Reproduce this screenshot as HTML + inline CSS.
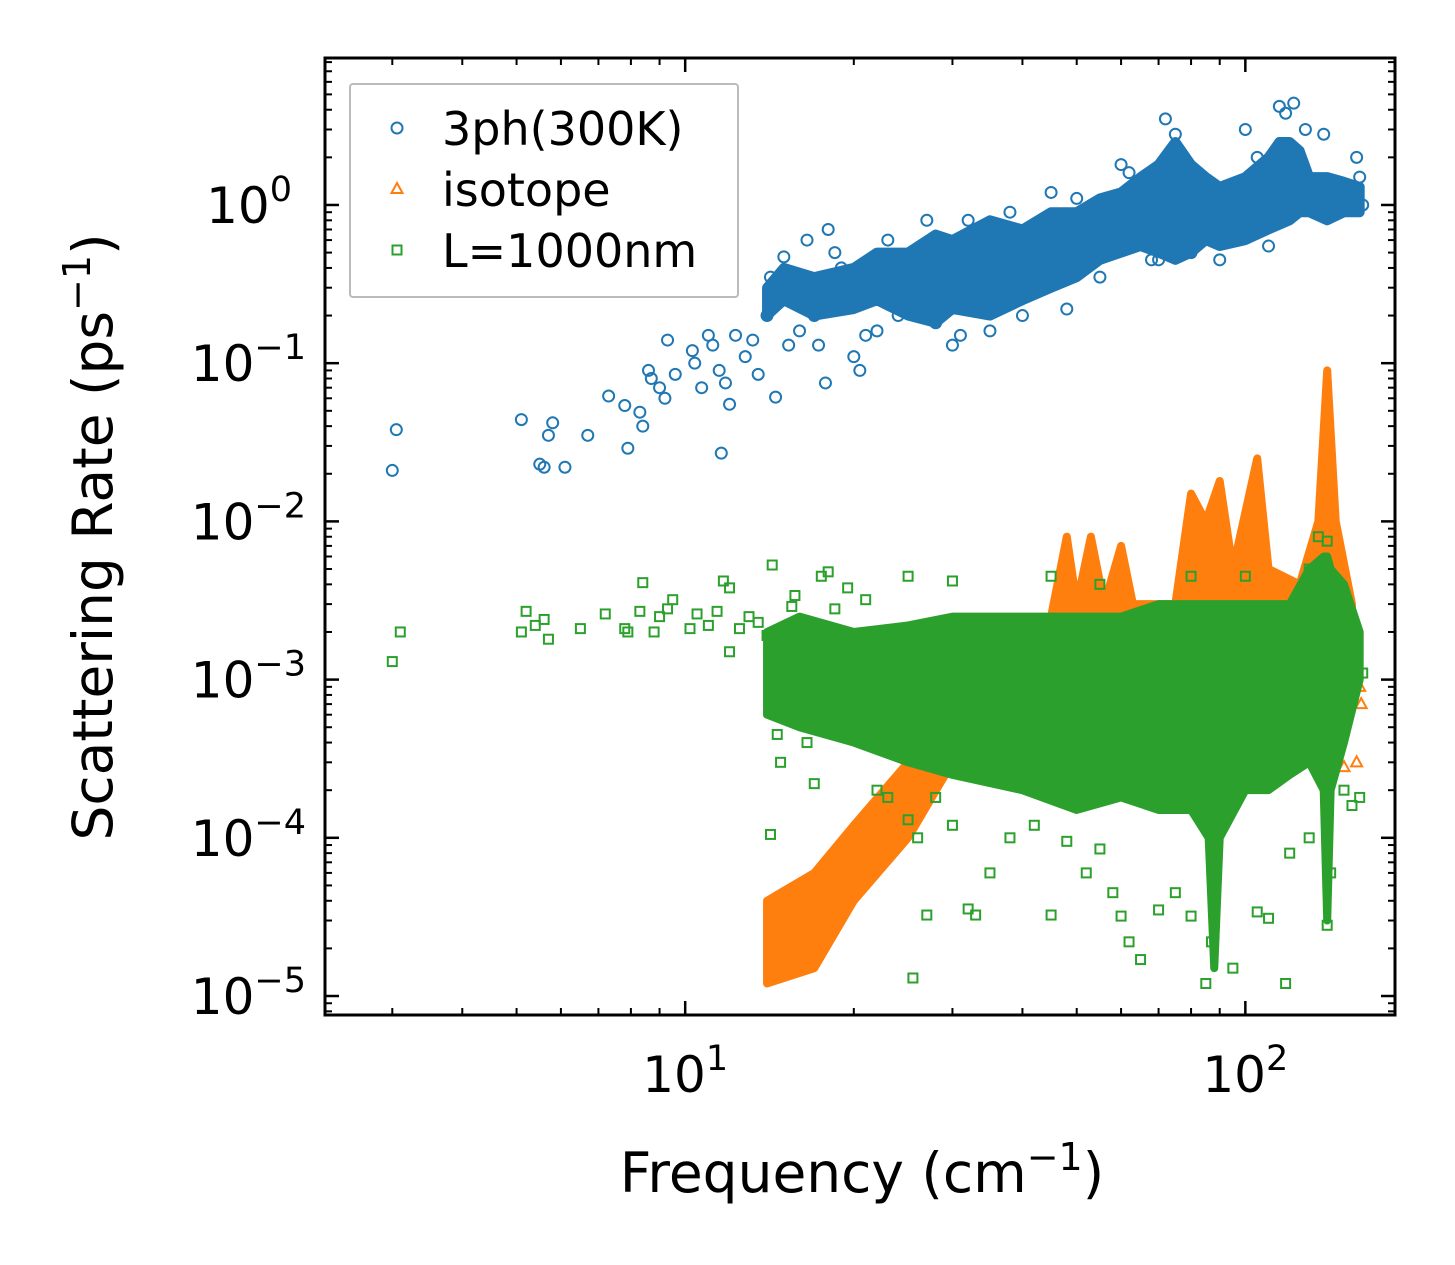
<!DOCTYPE html>
<html><head><meta charset="utf-8"><style>
body{margin:0;background:#fff;}
svg{display:block;font-family:"DejaVu Sans","Liberation Sans",sans-serif;}
</style></head><body>
<svg id="chart" width="1455" height="1265" viewBox="0 0 1455 1265">
<g id="bands"></g><g id="marks"></g><g id="axes"></g>
</svg>
<script>
const blueF=[3.0,3.05,5.1,5.5,5.6,5.7,5.8,6.1,6.7,7.3,7.8,7.9,8.3,8.4,8.6,8.7,9.0,9.2,9.3,9.6,10.3,10.4,10.7,11.0,11.2,11.5,11.6,11.8,12,12.3,12.8,13.2,13.5,14,14.2,14.5,14.8,15,15.3,16,16.5,17,17.3,17.8,18,18.5,19,19.5,20,20.5,21,22,23,24,25,27,28,30,31,32,35,38,40,45,48,50,55,60,65,68,72,75,80,85,90,100,105,110,115,118,122,125,128,132,138,142,150,155,158,160,162,95,62,70];
const blueR=[0.021,0.038,0.044,0.023,0.022,0.035,0.042,0.022,0.035,0.062,0.054,0.029,0.049,0.04,0.09,0.08,0.07,0.06,0.14,0.085,0.12,0.1,0.07,0.15,0.13,0.09,0.027,0.075,0.055,0.15,0.11,0.14,0.085,0.2,0.35,0.061,0.28,0.47,0.13,0.16,0.6,0.2,0.13,0.075,0.7,0.5,0.4,0.3,0.11,0.09,0.15,0.16,0.6,0.2,0.45,0.8,0.18,0.13,0.15,0.8,0.16,0.9,0.2,1.2,0.22,1.1,0.35,1.8,0.6,0.45,3.5,2.8,0.5,0.8,0.45,3,2,0.55,4.2,3.8,4.4,1.6,3,0.9,2.8,1.2,0.95,1.3,2,1.5,1.0,0.75,1.6,0.45];
const blueBandF=[14,15,17,20,22,25,28,30,35,40,45,50,55,60,65,70,75,80,85,90,100,110,115,120,125,130,140,150,160];
const blueBandLo=[0.2,0.25,0.2,0.22,0.25,0.2,0.18,0.22,0.2,0.25,0.3,0.35,0.45,0.5,0.55,0.5,0.45,0.5,0.6,0.55,0.6,0.7,0.75,0.8,0.9,0.9,0.8,0.9,0.9];
const blueBandHi=[0.3,0.4,0.35,0.4,0.5,0.5,0.65,0.6,0.8,0.7,0.9,0.9,1.1,1.2,1.5,1.8,2.5,1.8,1.5,1.3,1.5,2,2.5,2.5,2.2,1.5,1.5,1.4,1.3];
const orangeBandF=[14,17,20,25,30,40,45,48,50,53,56,60,63,75,80,85,90,95,105,110,125,135,140,145,155];
const orangeBandHi=[4e-5,6e-5,1.2e-4,3e-4,1e-3,2e-3,2.5e-3,8e-3,3e-3,8e-3,3e-3,7e-3,3e-3,3e-3,1.5e-2,1e-2,1.8e-2,5e-3,2.5e-2,5e-3,4e-3,1e-2,9e-2,1e-2,3e-3];
const orangeBandLo=[1.2e-5,1.5e-5,4e-5,1e-4,3e-4,5e-4,6e-4,6e-4,6e-4,6e-4,6e-4,6e-4,6e-4,6e-4,6e-4,6e-4,6e-4,6e-4,6e-4,6e-4,6e-4,6e-4,6e-4,8e-4,1e-3];
const orangeF=[160,161,158,150];
const orangeR=[9e-4,7e-4,3e-4,2.8e-4];
const greenBandF=[14,16,20,25,30,40,50,60,70,80,86,88,90,100,110,120,130,138,140,142,150,160];
const greenBandLo=[6e-4,5e-4,4e-4,3e-4,2.5e-4,2e-4,1.5e-4,1.8e-4,1.5e-4,1.5e-4,1e-4,1.5e-5,1e-4,2e-4,2e-4,2.5e-4,3e-4,2e-4,3e-5,2e-4,4e-4,1e-3];
const greenBandHi=[2e-3,2.5e-3,2e-3,2.2e-3,2.5e-3,2.5e-3,2.5e-3,2.5e-3,3e-3,3e-3,3e-3,3e-3,3e-3,3e-3,3e-3,3e-3,5e-3,6e-3,6e-3,5e-3,4e-3,2e-3];
const greenF=[3,3.1,5.1,5.2,5.4,5.6,5.7,6.5,7.2,7.8,7.9,8.3,8.4,8.8,9.0,9.3,9.5,10.2,10.5,11,11.4,11.7,12,12.5,12,13,13.5,14,14.3,14.6,14.8,14.2,15.5,15.7,16,16.5,17,17.5,18,18.5,19,19.5,21,22,23,25,25.5,26,27,28,30,32,33,35,38,42,45,48,52,55,58,60,62,65,70,75,80,85,87,95,105,110,118,120,130,140,142,150,155,160,162,158,135,140,130,100,80,45,55,25,30];
const greenR=[0.0013,0.002,0.002,0.0027,0.0022,0.0024,0.0018,0.0021,0.0026,0.0021,0.002,0.0027,0.0041,0.002,0.0025,0.0028,0.0032,0.0021,0.0026,0.0022,0.0027,0.0042,0.0038,0.0021,0.0015,0.0025,0.0023,0.0019,0.0053,0.00045,0.0003,0.000105,0.0029,0.0034,0.0012,0.0004,0.00022,0.0045,0.0048,0.0028,0.0006,0.0038,0.0032,0.0002,0.00018,0.00013,0.000013,0.0001,0.0000325,0.00018,0.00012,0.0000355,0.0000325,0.00006,0.0001,0.00012,0.0000325,0.000095,0.00006,0.000085,0.000045,0.000032,0.000022,0.000017,0.000035,0.000045,0.000032,0.000012,0.000022,0.000015,0.000034,0.000031,0.000012,0.00008,0.0001,0.000028,0.00006,0.0002,0.00016,0.00018,0.0011,0.0016,0.008,0.0075,0.005,0.0045,0.0045,0.0045,0.004,0.0045,0.0042];
const xTickExp=[1,2];
const yTickExp=[0,-1,-2,-3,-4,-5];

const NS="http://www.w3.org/2000/svg";
const L=325,R=1395,T=58,B=1015;
const xMinL=Math.log10(2.275),xMaxL=Math.log10(185);
const yMinL=-5.12,yMaxL=0.929;
const X=f=>L+(Math.log10(f)-xMinL)/(xMaxL-xMinL)*(R-L);
const Y=v=>B-(Math.log10(v)-yMinL)/(yMaxL-yMinL)*(B-T);
function mk(tag,attrs,parent){const e=document.createElementNS(NS,tag);for(const k in attrs)e.setAttribute(k,attrs[k]);parent.appendChild(e);return e;}
const bands=document.getElementById('bands'),marks=document.getElementById('marks'),axes=document.getElementById('axes');
const C={b:'#1f77b4',o:'#ff7f0e',g:'#2ca02c'};
function bandPts(F,lo,hi){let pts=F.map((f,i)=>X(f)+','+Y(hi[i]));
  for(let i=F.length-1;i>=0;i--)pts.push(X(F[i])+','+Y(lo[i]));return pts.join(' ');}
function circle(x,y,col,g){return mk('circle',{cx:x,cy:y,r:5.5,fill:'none',stroke:col,'stroke-width':2},g);}
function tri(x,y,col,g){return mk('polygon',{points:`${x},${y-6} ${x-5.5},${y+4} ${x+5.5},${y+4}`,fill:'none',stroke:col,'stroke-width':2},g);}
function sq(x,y,col,g){return mk('rect',{x:x-4.5,y:y-4.5,width:9,height:9,fill:'none',stroke:col,'stroke-width':2},g);}
const bb=mk('polygon',{points:bandPts(blueBandF,blueBandLo,blueBandHi),fill:C.b,stroke:C.b,'stroke-width':10,'stroke-linejoin':'round'},bands);


const gb=mk('g',{},marks);
blueF.forEach((f,i)=>{const e=circle(X(f),Y(blueR[i]),C.b,gb);

});
const ob=mk('g',{},marks);
const obp=mk('polygon',{points:bandPts(orangeBandF,orangeBandLo,orangeBandHi),fill:C.o,stroke:C.o,'stroke-width':8,'stroke-linejoin':'round'},ob);


orangeF.forEach((f,i)=>{const e=tri(X(f),Y(orangeR[i]),C.o,ob);

});
const gg=mk('g',{},marks);
const gbp=mk('polygon',{points:bandPts(greenBandF,greenBandLo,greenBandHi),fill:C.g,stroke:C.g,'stroke-width':8,'stroke-linejoin':'round'},gg);


greenF.forEach((f,i)=>{const e=sq(X(f),Y(greenR[i]),C.g,gg);

});

const fr=mk('rect',{x:L,y:T,width:R-L,height:B-T,fill:'none',stroke:'#000','stroke-width':3},axes);


for(let e=0;e<=2;e++)for(let m=1;m<10;m++){const v=m*Math.pow(10,e);if(v<2.275||v>185)continue;
  const x=X(v),len=m===1?14:7,w=m===1?2.5:2;
  mk('line',{x1:x,y1:B,x2:x,y2:B-len,stroke:'#000','stroke-width':w},axes);
  mk('line',{x1:x,y1:T,x2:x,y2:T+len,stroke:'#000','stroke-width':w},axes);}
for(let e=-6;e<=0;e++)for(let m=1;m<10;m++){const v=m*Math.pow(10,e);if(Math.log10(v)<yMinL||Math.log10(v)>yMaxL)continue;
  const y=Y(v),len=m===1?14:7,w=m===1?2.5:2;
  mk('line',{x1:L,y1:y,x2:L+len,y2:y,stroke:'#000','stroke-width':w},axes);
  mk('line',{x1:R,y1:y,x2:R-len,y2:y,stroke:'#000','stroke-width':w},axes);}
xTickExp.forEach(e=>{const t=mk('text',{x:X(Math.pow(10,e)),y:1092,'font-size':50,'text-anchor':'middle'},axes);
  t.innerHTML=`10<tspan dy="-22" font-size="35">${e}</tspan>`;
  
  });
yTickExp.forEach(e=>{const lab=e<0?'\u2212'+(-e):''+e;
  const t=mk('text',{x:e<0?306:292,y:Y(Math.pow(10,e))+18,'font-size':50,'text-anchor':'end'},axes);
  t.innerHTML=`10<tspan dy="-22" font-size="35">${lab}</tspan>`;
  
  });
const xt=mk('text',{x:862,y:1192,'font-size':55,'text-anchor':'middle'},axes);
xt.innerHTML='Frequency (cm<tspan dy="-22" font-size="38">\u22121</tspan><tspan dy="22">)</tspan>';


const yt=mk('text',{x:0,y:0,'font-size':55,'text-anchor':'middle',transform:'translate(112,537) rotate(-90)'},axes);
yt.innerHTML='Scattering Rate (ps<tspan dy="-22" font-size="38">\u22121</tspan><tspan dy="22">)</tspan>';


const lg=mk('g',{},axes);


mk('rect',{x:350,y:84,width:388,height:213,fill:'#fff',stroke:'#bbb','stroke-width':2,rx:3},lg);
circle(397,128,C.b,lg);tri(397,189,C.o,lg);sq(397,250,C.g,lg);
[['3ph(300K)',145],['isotope',206],['L=1000nm',267]].forEach(([s,y])=>{const t=mk('text',{x:442,y:y,'font-size':46},lg);t.textContent=s;

});
</script>
</body></html>
